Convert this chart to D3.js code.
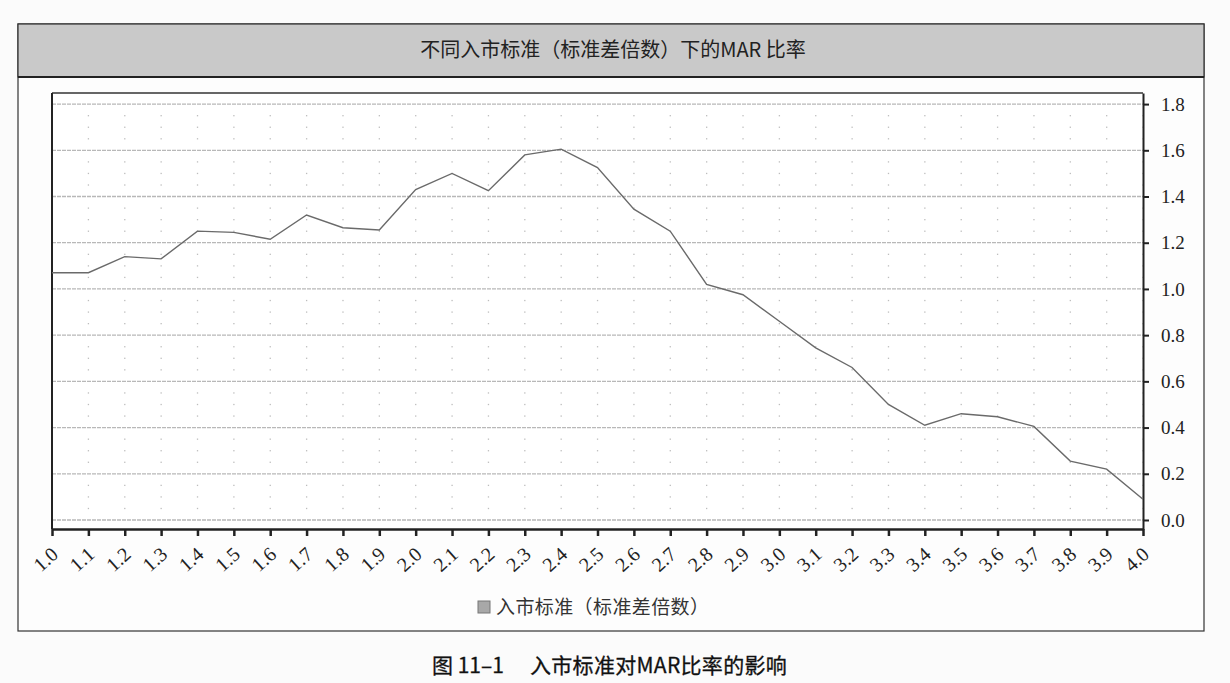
<!DOCTYPE html>
<html>
<head>
<meta charset="utf-8">
<script src="https://cdn.jsdelivr.net/npm/d3@7"></script>
<style>
  body { margin: 0; background: #fbfbfb; }
  svg { display: block; }
</style>
</head>
<body>
<div id="childdiv"></div>
<script>
// chart values
var categories = ["1.0", "1.1", "1.2", "1.3", "1.4", "1.5", "1.6", "1.7", "1.8", "1.9",
  "2.0", "2.1", "2.2", "2.3", "2.4", "2.5", "2.6", "2.7", "2.8", "2.9",
  "3.0", "3.1", "3.2", "3.3", "3.4", "3.5", "3.6", "3.7", "3.8", "3.9", "4.0"];
var marRatio = [1.07, 1.07, 1.14, 1.13, 1.25, 1.245, 1.215, 1.32, 1.265, 1.255,
  1.43, 1.50, 1.425, 1.58, 1.605, 1.525, 1.345, 1.25, 1.02, 0.975,
  0.86, 0.745, 0.66, 0.50, 0.41, 0.46, 0.447, 0.405, 0.255, 0.22, 0.09];
var yTicks = [0, 0.2, 0.4, 0.6, 0.8, 1.0, 1.2, 1.4, 1.6, 1.8];
var yMinor = [0.05, 0.1, 0.15, 0.25, 0.3, 0.35, 0.45, 0.5, 0.55, 0.65, 0.7, 0.75,
  0.85, 0.9, 0.95, 1.05, 1.1, 1.15, 1.25, 1.3, 1.35, 1.45, 1.5, 1.55, 1.65, 1.7, 1.75];
var chartTitle = "不同入市标准（标准差倍数）下的MAR 比率";
var legendLabel = "入市标准（标准差倍数）";
var captionNum = "图 11–1";
var captionText = "入市标准对MAR比率的影响";

var svgWidth = 1230;
var svgHeight = 683;

var box = { left: 18, top: 24, right: 1204, bottom: 631, band: 77 };
var plot = { left: 52, top: 93, right: 1143, bottom: 529 };

var svg = d3.select("#childdiv")
  .append("svg")
  .attr("width", svgWidth)
  .attr("height", svgHeight);

svg.append("rect")
  .attr("width", svgWidth)
  .attr("height", svgHeight)
  .attr("fill", "#fbfbfb");

// outer frame + grey title band
svg.append("rect")
  .attr("x", box.left)
  .attr("y", box.top)
  .attr("width", box.right - box.left)
  .attr("height", box.bottom - box.top)
  .attr("fill", "#fdfdfd")
  .attr("stroke", "#333")
  .attr("stroke-width", 1.2);

svg.append("rect")
  .attr("x", box.left)
  .attr("y", box.top)
  .attr("width", box.right - box.left)
  .attr("height", box.band - box.top)
  .attr("fill", "#c9c9c9")
  .attr("stroke", "#333")
  .attr("stroke-width", 1.2);

svg.append("line")
  .attr("x1", box.left).attr("x2", box.right)
  .attr("y1", box.band).attr("y2", box.band)
  .attr("stroke", "#222")
  .attr("stroke-width", 2);

svg.append("text")
  .attr("x", 613)
  .attr("y", 57)
  .attr("text-anchor", "middle")
  .attr("font-family", "'Noto Sans CJK SC', sans-serif")
  .attr("font-size", "20px")
  .attr("fill", "#222")
  .text(chartTitle);

var xScale = d3.scaleLinear()
  .domain([1.0, 4.0])
  .range([plot.left, plot.right]);

var yScale = d3.scaleLinear()
  .domain([-0.039, 1.848])
  .range([plot.bottom, plot.top]);

var chartGroup = svg.append("g");

// plot background
chartGroup.append("rect")
  .attr("x", plot.left)
  .attr("y", plot.top)
  .attr("width", plot.right - plot.left)
  .attr("height", plot.bottom - plot.top)
  .attr("fill", "#fff");

// dotted minor grid: dots at every x category and every 0.05
var dots = [];
categories.forEach(function(c) {
  yMinor.forEach(function(v) { dots.push({ x: +c, y: v }); });
});
chartGroup.selectAll(".dot")
  .data(dots)
  .enter()
  .append("rect")
  .attr("class", "dot")
  .attr("x", d => xScale(d.x) - 0.6)
  .attr("y", d => yScale(d.y) - 0.6)
  .attr("width", 1.3)
  .attr("height", 1.3)
  .attr("fill", "#bdbdbd");

// major horizontal gridlines
chartGroup.selectAll(".hgrid")
  .data(yTicks)
  .enter()
  .append("line")
  .attr("class", "hgrid")
  .attr("x1", plot.left)
  .attr("x2", plot.right)
  .attr("y1", d => yScale(d))
  .attr("y2", d => yScale(d))
  .attr("stroke", "#b8b8b8")
  .attr("stroke-width", 1.3)
  .attr("stroke-dasharray", "4,1");

// frame top + left
chartGroup.append("line")
  .attr("x1", plot.left).attr("x2", plot.right)
  .attr("y1", plot.top).attr("y2", plot.top)
  .attr("stroke", "#333").attr("stroke-width", 1.5);
chartGroup.append("line")
  .attr("x1", plot.left).attr("x2", plot.left)
  .attr("y1", plot.top).attr("y2", plot.bottom)
  .attr("stroke", "#222").attr("stroke-width", 2);

//Create axis functions
var bottomAxis = d3.axisBottom(xScale)
  .tickValues(categories.map(Number))
  .tickFormat((d, i) => categories[i])
  .tickSizeInner(7)
  .tickSizeOuter(0);

var rightAxis = d3.axisRight(yScale)
  .tickValues(yTicks)
  .tickFormat(d3.format(".1f"))
  .tickSizeInner(6)
  .tickSizeOuter(0);

var xAxisG = chartGroup.append("g")
  .attr("transform", `translate(0, ${plot.bottom})`)
  .call(bottomAxis);

xAxisG.select(".domain").attr("stroke", "#222").attr("stroke-width", 2.5);
xAxisG.selectAll(".tick line").attr("stroke", "#222").attr("stroke-width", 2.5);
// rotated labels, ending just right of each tick
xAxisG.selectAll(".tick text")
  .attr("font-family", "'Liberation Serif', 'Times New Roman', serif")
  .attr("font-size", "20px")
  .attr("fill", "#222")
  .attr("text-anchor", "end")
  .attr("x", 0)
  .attr("y", 0)
  .attr("dy", 0)
  .attr("transform", "translate(7, 27) rotate(-42)");

var yAxisG = chartGroup.append("g")
  .attr("transform", `translate(${plot.right}, 0)`)
  .call(rightAxis);

yAxisG.select(".domain").attr("stroke", "#222").attr("stroke-width", 2);
yAxisG.selectAll(".tick line").attr("stroke", "#222").attr("stroke-width", 2);
yAxisG.selectAll(".tick text")
  .attr("font-family", "'Liberation Serif', 'Times New Roman', serif")
  .attr("font-size", "19px")
  .attr("fill", "#222")
  .attr("x", 18);

// the MAR line
var marLine = d3.line()
  .x((d, i) => xScale(+categories[i]))
  .y(d => yScale(d));

chartGroup.append("path")
  .datum(marRatio)
  .attr("d", marLine)
  .attr("fill", "none")
  .attr("stroke", "#6a6a6a")
  .attr("stroke-width", 1.4);

// legend
svg.append("rect")
  .attr("x", 478)
  .attr("y", 601)
  .attr("width", 12)
  .attr("height", 12)
  .attr("fill", "#a8a8a8")
  .attr("stroke", "#777")
  .attr("stroke-width", 1);

svg.append("text")
  .attr("x", 496)
  .attr("y", 614)
  .attr("font-family", "'Noto Sans CJK SC', sans-serif")
  .attr("font-size", "19px")
  .attr("letter-spacing", "0.4px")
  .attr("fill", "#333")
  .text(legendLabel);

// caption under the box
svg.append("text")
  .attr("x", 432)
  .attr("y", 673)
  .attr("font-family", "'Noto Sans CJK SC', sans-serif")
  .attr("font-size", "21px")
  .attr("fill", "#111")
  .attr("stroke", "#111")
  .attr("stroke-width", 0.3)
  .text(captionNum);

svg.append("text")
  .attr("x", 530)
  .attr("y", 673)
  .attr("font-family", "'Noto Sans CJK SC', sans-serif")
  .attr("font-size", "21px")
  .attr("letter-spacing", "0.3px")
  .attr("fill", "#111")
  .attr("stroke", "#111")
  .attr("stroke-width", 0.3)
  .text(captionText);
</script>
</body>
</html>
